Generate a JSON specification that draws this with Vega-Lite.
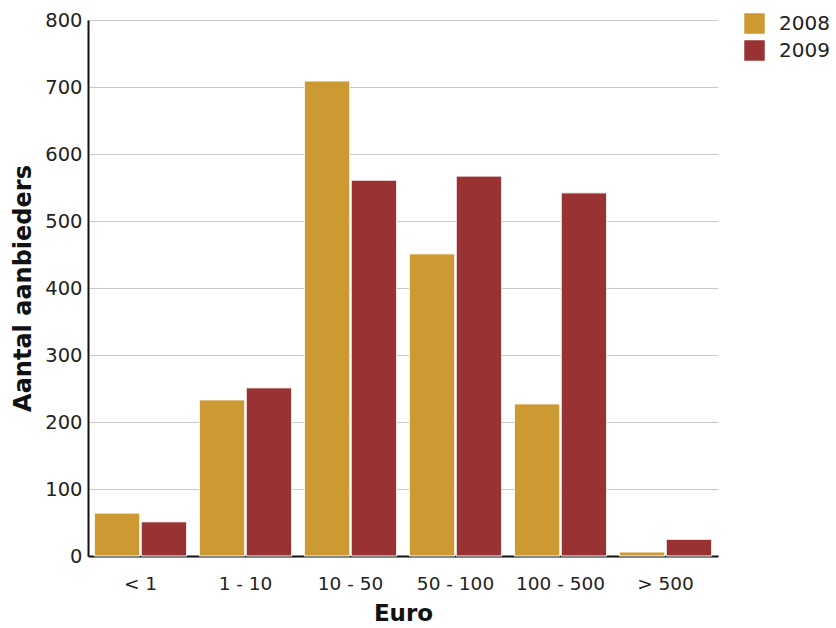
{
  "$schema": "https://vega.github.io/schema/vega-lite/v6.json",
  "width": 630,
  "height": 536,
  "autosize": "none",
  "padding": {"left": 88, "top": 20, "right": 118, "bottom": 72},
  "background": "white",
  "config": {"view": {"stroke": null}, "font": "DejaVu Sans"},
  "data": {"values": [
    {"cat": "< 1", "year": "2008", "value": 64},
    {"cat": "< 1", "year": "2009", "value": 51},
    {"cat": "1 - 10", "year": "2008", "value": 233},
    {"cat": "1 - 10", "year": "2009", "value": 251},
    {"cat": "10 - 50", "year": "2008", "value": 709},
    {"cat": "10 - 50", "year": "2009", "value": 561},
    {"cat": "50 - 100", "year": "2008", "value": 451},
    {"cat": "50 - 100", "year": "2009", "value": 567},
    {"cat": "100 - 500", "year": "2008", "value": 227},
    {"cat": "100 - 500", "year": "2009", "value": 542},
    {"cat": "> 500", "year": "2008", "value": 6},
    {"cat": "> 500", "year": "2009", "value": 25}
  ]},
  "mark": {"type": "bar", "stroke": "white", "strokeWidth": 1},
  "encoding": {
    "x": {"field": "cat", "type": "nominal", "sort": null,
      "scale": {"paddingInner": 0.12, "paddingOuter": 0.06},
      "axis": {"title": "Euro", "titleFontSize": 23, "titleFontWeight": "bold", "titleColor": "#111", "titlePadding": 10,
        "labelAngle": 0, "labelFontSize": 18.5, "labelColor": "#222", "labelPadding": 18, "ticks": false,
        "domainColor": "#111", "domainWidth": 2}},
    "xOffset": {"field": "year", "type": "nominal", "scale": {"paddingInner": 0.03}},
    "y": {"field": "value", "type": "quantitative",
      "scale": {"domain": [0, 800], "nice": false},
      "axis": {"title": "Aantal aanbieders", "titleFontSize": 24, "titleFontWeight": "bold", "titleColor": "#111", "titlePadding": 9,
        "values": [0, 100, 200, 300, 400, 500, 600, 700, 800], "labelFontSize": 19.5, "labelColor": "#222", "labelPadding": 6,
        "ticks": false, "domainColor": "#111", "domainWidth": 2, "gridColor": "#c8c8c8", "gridWidth": 1}},
    "color": {"field": "year", "type": "nominal",
      "scale": {"domain": ["2008", "2009"], "range": ["#CC9933", "#993333"]},
      "legend": {"title": null, "orient": "none", "legendX": 656, "legendY": -7, "symbolType": "square", "symbolSize": 420,
        "symbolStrokeWidth": 0, "labelFontSize": 20, "labelColor": "#222", "rowPadding": 6, "labelOffset": 14}}
  }
}
